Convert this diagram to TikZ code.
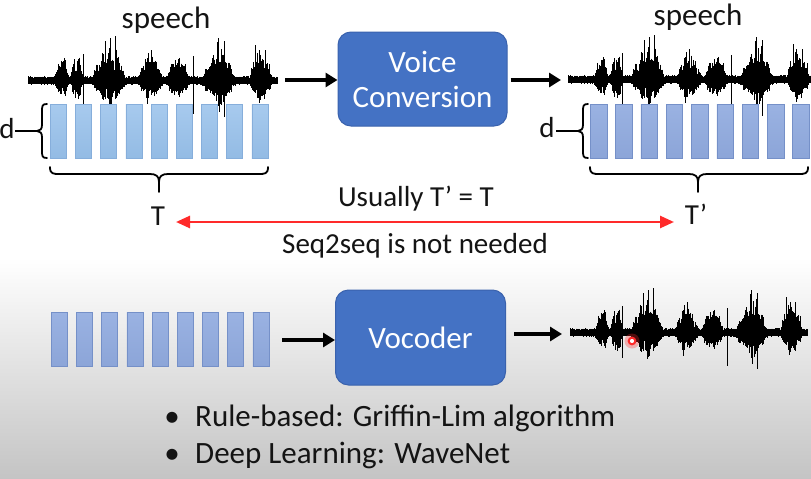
\documentclass[tikz,border=0pt]{standalone}
\usepackage{fontspec}
\setmainfont{Carlito}
\usetikzlibrary{arrows.meta}
\definecolor{boxblue}{HTML}{4472C4}
\definecolor{boxedge}{HTML}{3A62AD}
\definecolor{barA}{HTML}{93BBE4}
\definecolor{barAtop}{HTML}{A7CAEE}
\definecolor{barAedge}{HTML}{86AEDB}
\definecolor{barB}{HTML}{8CA5D8}
\definecolor{barBtop}{HTML}{9AB2E2}
\definecolor{barBedge}{HTML}{7590C8}
\definecolor{arrowred}{HTML}{FF2A2A}
\definecolor{bggray}{HTML}{C4C4C4}
\newcommand\drawwave[3]{%
  \pgfmathsetseed{11}%
  \foreach \i in {0,...,479}{%
    \pgfmathsetmacro\u{\i/479}%
    \pgfmathsetmacro\e{wenv(\u)}%
    \pgfmathsetmacro\xx{#1+#2*\u}%
    \pgfmathsetmacro\yu{#3-1.8-min(47,52*\e*(0.3+0.45*rnd+0.25*rnd^6))}%
    \pgfmathsetmacro\yd{#3+1.8+min(34,34*\e*(0.3+0.45*rnd+0.25*rnd^6))}%
    \draw[wave] (\xx,\yu) -- (\xx,\yd);
  }%
  \draw[wave,line width=1.4pt] (#1,#3) -- (#1+#2,#3);
  \draw[wave,line width=0.8pt] (#1+0.222*#2,#3-27) -- (#1+0.222*#2,#3+25)
    (#1+0.665*#2,#3-25) -- (#1+0.665*#2,#3+33)
    (#1+0.79*#2,#3-40) -- (#1+0.79*#2,#3+36)
    (#1+0.33*#2,#3-43) -- (#1+0.33*#2,#3+24)
    (#1+0.35*#2,#3-45) -- (#1+0.35*#2,#3+12)
    (#1+0.31*#2,#3-40) -- (#1+0.31*#2,#3+18)
    (#1+0.765*#2,#3-43) -- (#1+0.765*#2,#3+20)
    (#1+0.495*#2,#3-31) -- (#1+0.495*#2,#3+14)
    (#1+0.915*#2,#3-36) -- (#1+0.915*#2,#3+12);
}
\newcommand\hbracepath[4]{% a, b, m, y0
  \draw[bracestyle] (#1,#4) .. controls (#1,#4+7) and (#1+3,#4+7) .. (#1+10,#4+7) -- (#3-9,#4+7)
     .. controls (#3-3,#4+7) and (#3,#4+9) .. (#3,#4+15) -- (#3,#4+25);
  \draw[bracestyle] (#3,#4+15) .. controls (#3,#4+9) and (#3+3,#4+7) .. (#3+9,#4+7) -- (#2-10,#4+7)
     .. controls (#2-3,#4+7) and (#2,#4+7) .. (#2,#4);
}
\newcommand\vbracepath[2]{% right x, tip x, (top 104 bottom 158)
  \draw[bracestyle] (#1,104) .. controls (#1-5,104) and (#1-5,106) .. (#1-5,112) -- (#1-5,125)
     .. controls (#1-5,129) and (#1-7,131) .. (#2,131)
     .. controls (#1-7,131) and (#1-5,133) .. (#1-5,137) -- (#1-5,150)
     .. controls (#1-5,156) and (#1-5,158) .. (#1,158);
}
\begin{document}
\begin{tikzpicture}[x=1pt,y=-1pt,
  declare function={
     bp(\t,\c,\w)=max(0,1-abs((\t-\c)/\w));
     wenv(\t)=0.07
     +0.35*bp(\t,0.135,0.03)+0.2*bp(\t,0.125,0.012)+0.3*bp(\t,0.147,0.012)
     +0.35*bp(\t,0.195,0.028)+0.25*bp(\t,0.185,0.012)+0.3*bp(\t,0.206,0.012)
     +0.45*bp(\t,0.325,0.07)+0.2*bp(\t,0.275,0.014)+0.35*bp(\t,0.30,0.014)
        +0.6*bp(\t,0.33,0.014)+0.5*bp(\t,0.355,0.014)+0.2*bp(\t,0.376,0.012)
     +0.4*bp(\t,0.49,0.05)+0.2*bp(\t,0.46,0.014)+0.4*bp(\t,0.48,0.014)
        +0.25*bp(\t,0.51,0.014)+0.1*bp(\t,0.53,0.012)
     +0.4*bp(\t,0.60,0.045)+0.2*bp(\t,0.575,0.014)+0.15*bp(\t,0.61,0.012)+0.2*bp(\t,0.63,0.012)
     +0.45*bp(\t,0.765,0.07)+0.15*bp(\t,0.715,0.014)+0.25*bp(\t,0.74,0.014)
        +0.6*bp(\t,0.765,0.014)+0.45*bp(\t,0.787,0.014)+0.2*bp(\t,0.81,0.012)
     +0.4*bp(\t,0.935,0.045)+0.25*bp(\t,0.905,0.014)+0.5*bp(\t,0.925,0.014)
        +0.3*bp(\t,0.95,0.014)+0.15*bp(\t,0.97,0.012);},
  lbl/.style={font=\fontsize{29}{34}\selectfont, inner sep=0pt, anchor=base, text=black!92},
  biglbl/.style={lbl, font=\fontsize{31}{36}\selectfont},
  procbox/.style={draw=boxedge, line width=1pt, fill=boxblue, rounded corners=13pt,
     inner sep=0pt},
  boxtext/.style={biglbl, text=white},
  barlight/.style={draw=barAedge, line width=0.6pt, top color=barAtop, bottom color=barA,
     minimum width=16pt, minimum height=54pt, inner sep=0pt, anchor=north west},
  bardark/.style={draw=barBedge, line width=0.6pt, top color=barBtop, bottom color=barB,
     minimum width=16pt, minimum height=54pt, inner sep=0pt, anchor=north west},
  wave/.style={draw=black, line width=0.6pt},
  bigarrow/.style={draw=black, line width=3.6pt, -{Triangle[length=12pt,width=14pt]}},
  redarrow/.style={draw=arrowred, line width=2.6pt,
     {Triangle[length=14pt,width=12pt]}-{Triangle[length=14pt,width=12pt]}},
  bracestyle/.style={draw=black, line width=1.8pt, line cap=round, line join=round}
]
\useasboundingbox (0,0) rectangle (811,479);
\fill[white] (0,0) rectangle (811,479);
\shade[top color=white, bottom color=bggray] (0,258) rectangle (811,479);

% ---------- top left ----------
\node[biglbl] (speechL) at (166,28) {speech};
\drawwave{28}{249}{81}
\foreach \k in {0,...,8}{ \node[barlight] (aL\k) at (50+25.2*\k,104) {}; }
\vbracepath{47}{37}
\coordinate (dLtip) at (37,131);
\node[lbl] (dL) at (7,138) {d};
\draw[line width=1.6pt] (15,131) -- (dLtip);
\hbracepath{50}{268}{159}{167}
\node[lbl] (T) at (158,225) {T};

% ---------- voice conversion ----------
\node[procbox, minimum width=169pt, minimum height=94pt] (vc) at (422.5,79) {};
\node[boxtext] (vc1) at (422.5,72) {Voice};
\node[boxtext] (vc2) at (422.5,107) {Conversion};
\coordinate (wLend) at (285,80);
\coordinate (wRstart) at (561,80);
\draw[bigarrow] (wLend) -- (wLend -| vc.west);
\draw[bigarrow] ([xshift=3pt]vc.east |- wRstart) -- (wRstart);

% ---------- top right ----------
\node[biglbl] (speechR) at (698,25) {speech};
\begin{scope}
\clip (0,0) rectangle (811,479);
\drawwave{568}{246}{80}
\foreach \k in {0,...,8}{ \node[bardark, minimum width=16.5pt] (aR\k) at (590+25.3*\k,104) {}; }
\end{scope}
\vbracepath{588}{578}
\coordinate (dRtip) at (578,131);
\node[lbl] (dR) at (547,137) {d};
\draw[line width=1.6pt] (556,131) -- (dRtip);
\hbracepath{590}{808}{698}{167}
\node[lbl] (Tp) at (696,224) {T’};

% ---------- middle ----------
\node[lbl] (usually) at (416,206) {Usually T’ = T};
\node[lbl] (seq) at (415,253) {Seq2seq is not needed};
\coordinate (ra1) at (176,222);
\coordinate (ra2) at (674,222);
\draw[redarrow] (ra1) -- (ra2);

% ---------- bottom ----------
\foreach \k in {0,...,8}{ \node[bardark] (b\k) at (51+25.2*\k,312) {}; }
\node[procbox, minimum width=170pt, minimum height=95pt] (voc) at (420.5,337.5) {};
\node[boxtext] (voct) at (420.5,348) {Vocoder};
\coordinate (bLend) at (282,340);
\coordinate (wBstart) at (562,334);
\draw[bigarrow] (bLend) -- (bLend -| voc.west);
\draw[bigarrow] ([xshift=8pt]voc.east |- wBstart) -- (wBstart);
\drawwave{570}{237}{333}
\fill[arrowred, opacity=0.3] (632,341) circle (7.5pt);
\draw[arrowred, line width=2pt, fill=white] (632,341) circle (3.3pt);

\node[biglbl] (bul1) at (172,426) {\textbullet};
\node[biglbl, anchor=base west] (rule) at (195,426) {Rule-based: Griffin-Lim algorithm};
\node[biglbl] (bul2) at (172,463) {\textbullet};
\node[biglbl, anchor=base west] (deep) at (195,463) {Deep Learning: WaveNet};
\end{tikzpicture}
\end{document}
